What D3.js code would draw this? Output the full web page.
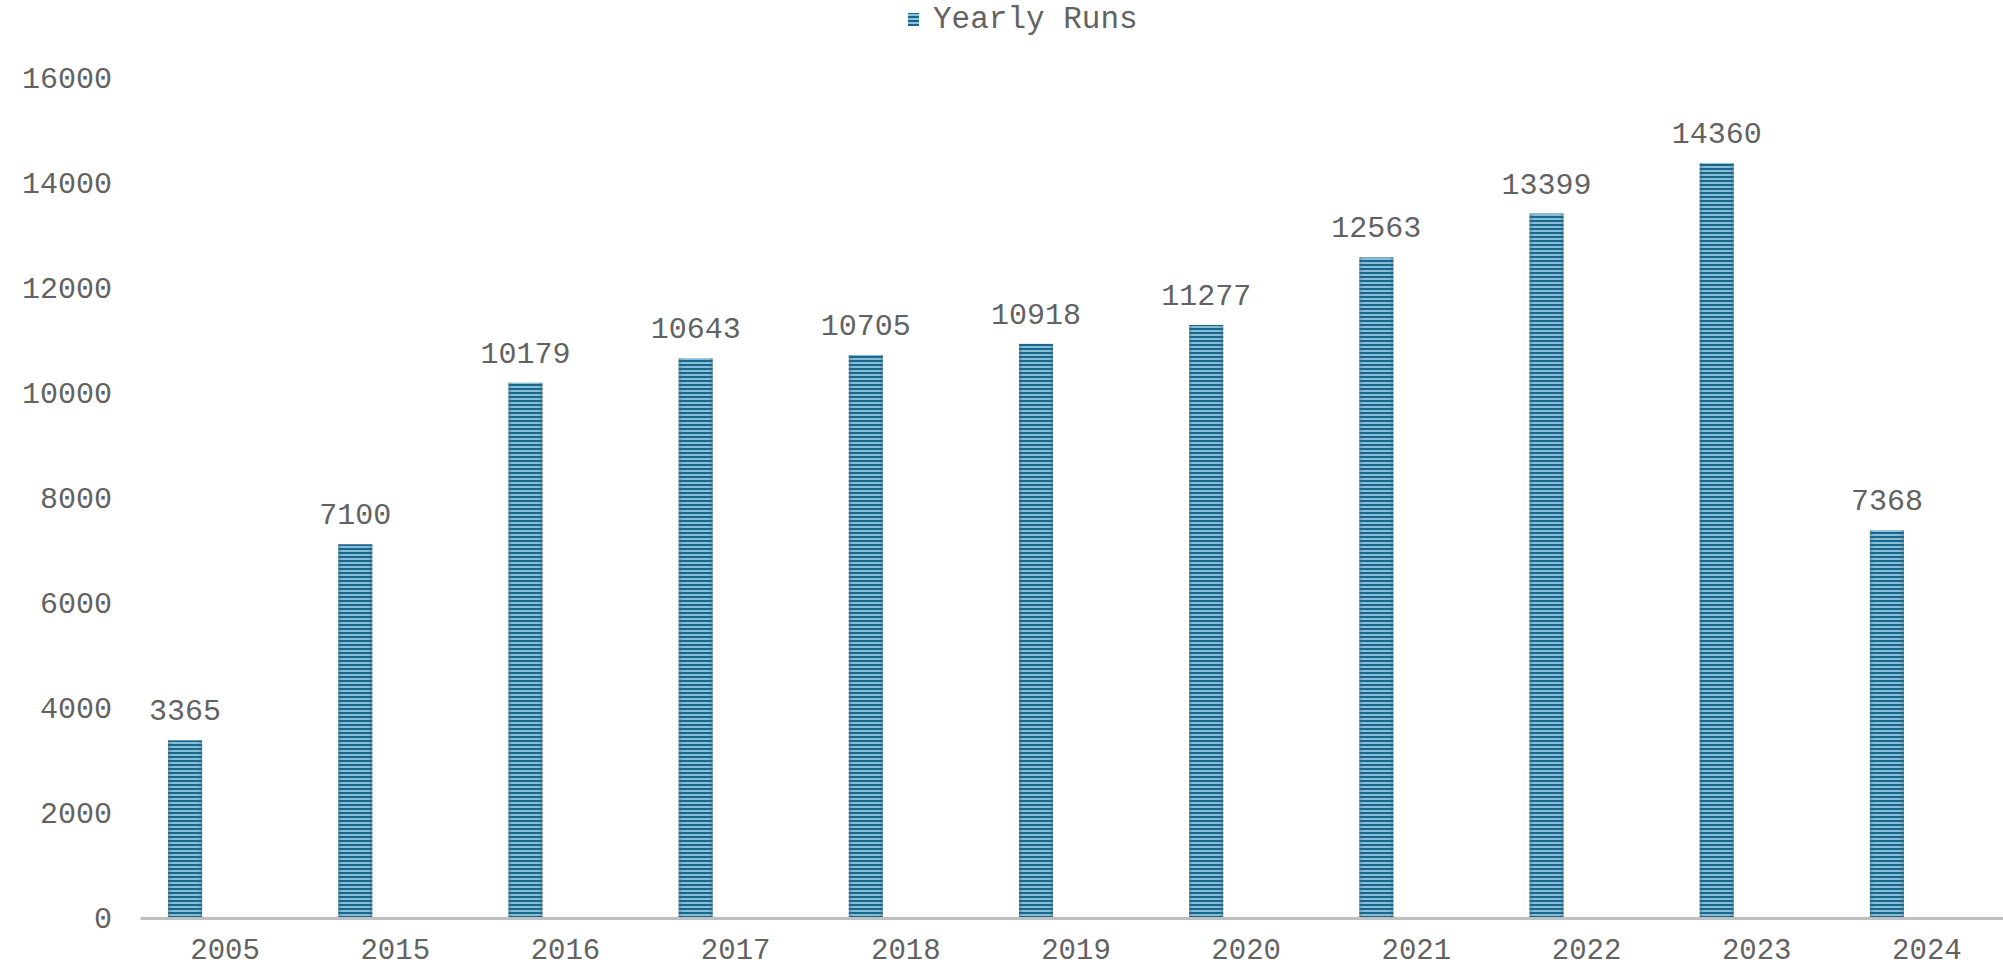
<!DOCTYPE html>
<meta charset="utf-8">
<script src="https://d3js.org/d3.v7.min.js"></script>
<style>
  body { margin: 0; background: #fff; }
  text { font-family: "Liberation Mono", "Courier New", monospace; fill: #626262; }
</style>
<div id="chart"></div>
<script>

// data
var years = ["2005", "2015", "2016", "2017", "2018", "2019", "2020", "2021", "2022", "2023", "2024"];
var runs = [3365, 7100, 10179, 10643, 10705, 10918, 11277, 12563, 13399, 14360, 7368];
var yTicks = [0, 2000, 4000, 6000, 8000, 10000, 12000, 14000, 16000];
var seriesName = "Yearly Runs";

var width = 2003, height = 968;

var svg = d3.select("#chart")
  .append("svg")
    .attr("width", width)
    .attr("height", height);

// striped fill like the original
var defs = svg.append("defs");
var pat = defs.append("pattern")
    .attr("id", "stripes")
    .attr("patternUnits", "userSpaceOnUse")
    .attr("width", 8)
    .attr("height", 4);
pat.append("rect").attr("width", 8).attr("height", 4).attr("fill", "#8cc3dc");
pat.append("rect").attr("width", 8).attr("height", 2).attr("fill", "#1b678c");

// slight cylinder shading on the edges
var shade = defs.append("linearGradient")
    .attr("id", "shade")
    .attr("x1", "0%").attr("x2", "100%").attr("y1", "0%").attr("y2", "0%");
shade.append("stop").attr("offset", "0%").attr("stop-color", "#4a5f6b").attr("stop-opacity", 0.45);
shade.append("stop").attr("offset", "12%").attr("stop-color", "#1b678c").attr("stop-opacity", 0.05);
shade.append("stop").attr("offset", "88%").attr("stop-color", "#1b678c").attr("stop-opacity", 0.05);
shade.append("stop").attr("offset", "100%").attr("stop-color", "#4a5f6b").attr("stop-opacity", 0.45);

var x = d3.scaleBand()
  .domain(years)
  .range([140, 2012]);

var y = d3.scaleLinear()
  .domain([0, 16000])
  .range([917, 77]);

var barW = x.bandwidth() * 0.2;
var barX = function(d) { return x(d) + x.bandwidth() / 2 - 40 - barW / 2; };

// y axis labels (no line)
var yAxis = svg.append("g")
  .attr("transform", "translate(112,0)")
  .call(d3.axisLeft(y).tickValues(yTicks).tickSize(0).tickPadding(0).tickFormat(d3.format("d")));
yAxis.select(".domain").remove();
yAxis.selectAll("text")
  .style("font-size", "30px")
  .attr("fill", null)
  .attr("dy", "0.35em");

// bars
var bars = svg.append("g");
bars.selectAll("rect.bar")
  .data(years)
  .enter()
  .append("rect")
    .attr("class", "bar")
    .attr("x", barX)
    .attr("y", function(d, i) { return y(runs[i]); })
    .attr("width", barW)
    .attr("height", function(d, i) { return y(0) - y(runs[i]); })
    .attr("fill", "url(#stripes)");
bars.selectAll("rect.shade")
  .data(years)
  .enter()
  .append("rect")
    .attr("class", "shade")
    .attr("x", barX)
    .attr("y", function(d, i) { return y(runs[i]); })
    .attr("width", barW)
    .attr("height", function(d, i) { return y(0) - y(runs[i]); })
    .attr("fill", "url(#shade)");

// value labels
svg.append("g").selectAll("text")
  .data(years)
  .enter()
  .append("text")
    .attr("x", function(d) { return barX(d) + barW / 2; })
    .attr("y", function(d, i) { return y(runs[i]) - 20; })
    .attr("text-anchor", "middle")
    .style("font-size", "30px")
    .text(function(d, i) { return runs[i]; });

// x axis
var xAxis = svg.append("g")
  .attr("transform", "translate(0," + y(0) + ")")
  .call(d3.axisBottom(x).tickSize(0).tickPadding(0));
xAxis.select(".domain")
  .attr("stroke", "#bfbfbf")
  .attr("stroke-width", 3)
  .attr("transform", "translate(0,1)");
xAxis.selectAll("text")
  .style("font-size", "29px")
  .attr("fill", null)
  .attr("dy", null)
  .attr("y", 42);

// legend
var legend = svg.append("g");
legend.append("rect")
  .attr("x", 908).attr("y", 13).attr("width", 11).attr("height", 13)
  .attr("fill", "url(#stripes)");
legend.append("text")
  .attr("x", 933).attr("y", 28)
  .style("font-size", "31px")
  .text(seriesName);

</script>
